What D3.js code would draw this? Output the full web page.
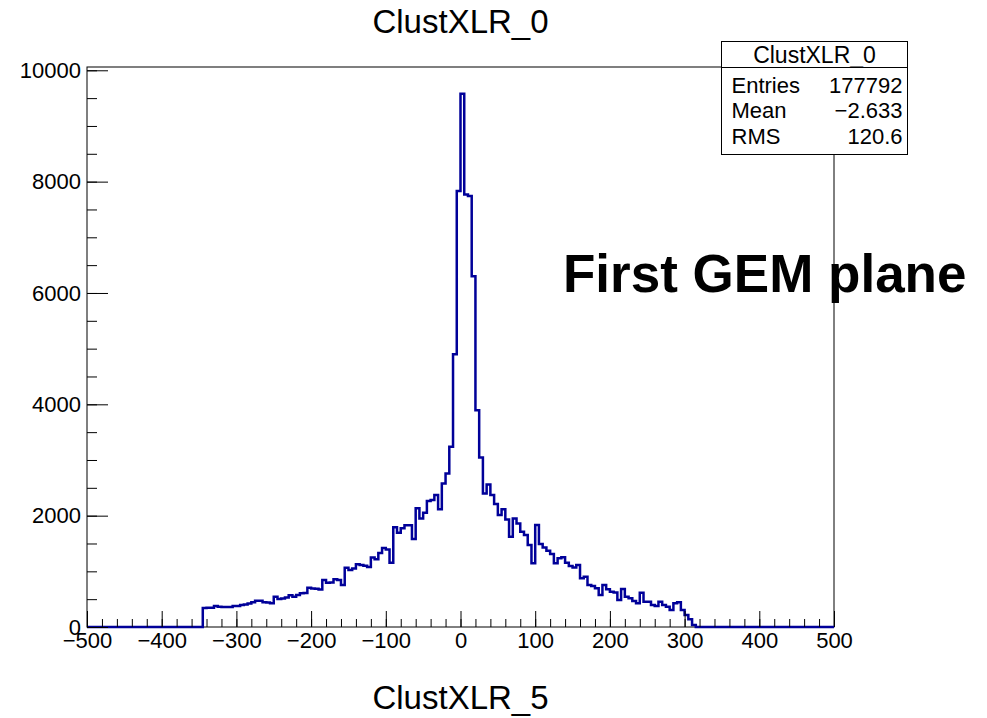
<!DOCTYPE html>
<html>
<head>
<meta charset="utf-8">
<script src="https://cdn.jsdelivr.net/npm/d3@7"></script>
<style>
  body { margin: 0; background: #fff; }
  svg text { font-family: "Liberation Sans", Arial, sans-serif; }
</style>
</head>
<body>
<svg id="chart" width="987" height="718"></svg>
<script>
// histogram settings (200 bins of width 5 from -500 to 500)
const histLow = -500, histHigh = 500, binWidth = 5;
// first non-empty bin starts at -345, counts
const firstEdge = -345;
const counts = [
  340, 345, 345, 375, 365, 360, 360, 360, 375, 378,
  395, 405, 420, 443, 470, 472, 443, 440, 425, 545,
  505, 510, 530, 570, 545, 575, 605, 610, 705, 690,
  685, 675, 844, 795, 800, 856, 844, 754, 1064, 1023,
  1053, 1125, 1113, 1100, 1078, 1250, 1215, 1330, 1420, 1390,
  1155, 1790, 1693, 1772, 1826, 1826, 1580, 2131, 1951, 2052,
  2262, 2280, 2369, 2113, 2579, 2759, 3236, 4900, 7830, 9580,
  7770, 7740, 6300, 3895, 3046, 2400, 2561, 2369, 2208, 2010,
  2113, 1933, 1621, 1951, 1861, 1711, 1651, 1472, 1143, 1831,
  1490, 1430, 1370, 1310, 1143, 1233, 1251, 1154, 1095, 1071,
  1113, 874, 903, 754, 736, 695, 574, 754, 680, 634,
  620, 485, 682, 544, 515, 467, 425, 616, 454, 454,
  395, 377, 454, 395, 365, 305, 425, 443, 305, 215,
  138, 36
];

const xMajor = [-500, -400, -300, -200, -100, 0, 100, 200, 300, 400, 500];
const yMajor = [0, 2000, 4000, 6000, 8000, 10000];

const histName = "ClustXLR_0";
const xTitle = "ClustXLR_5";
const statLabels = ["Entries", "Mean", "RMS"];
const statValues = ["177792", "\u22122.633", "120.6"];
const note = "First GEM plane";

// build full bin list including empty bins
const nBins = (histHigh - histLow) / binWidth;
const bins = d3.range(nBins).map(i => {
  const x0 = histLow + i * binWidth;
  const k = Math.round((x0 - firstEdge) / binWidth);
  return { x0, count: (k >= 0 && k < counts.length) ? counts[k] : 0 };
});

const svg = d3.select("#chart");
const frame = { left: 87, right: 834, top: 67, bottom: 627 };

const x = d3.scaleLinear().domain([histLow, histHigh]).range([frame.left, frame.right]);
// ROOT puts the maximum at 1.05 x the highest bin
const y = d3.scaleLinear().domain([0, d3.max(counts) * 1.05]).range([frame.bottom, frame.top]);

// frame
svg.append("rect")
  .attr("x", frame.left).attr("y", frame.top)
  .attr("width", frame.right - frame.left).attr("height", frame.bottom - frame.top)
  .attr("fill", "none").attr("stroke", "#000").attr("stroke-width", 1);

// histogram outline
const pts = bins.map(b => [b.x0, b.count]);
pts.push([histHigh, 0]);
const line = d3.line()
  .x(d => x(d[0]))
  .y(d => y(d[1]))
  .curve(d3.curveStepAfter);

svg.append("path")
  .datum(pts)
  .attr("fill", "none")
  .attr("stroke", "#000099")
  .attr("stroke-width", 2.5)
  .attr("d", line);

// x axis (ticks inside)
const xMinor = d3.range(histLow, histHigh + 1, 20);
svg.append("g")
  .attr("transform", `translate(0,${frame.bottom})`)
  .call(d3.axisBottom(x).tickValues(xMinor).tickSize(-8).tickFormat("").tickSizeOuter(0))
  .call(g => g.select(".domain").remove());
svg.append("g")
  .attr("transform", `translate(0,${frame.bottom})`)
  .call(d3.axisBottom(x).tickValues(xMajor).tickSize(-16).tickPadding(5)
    .tickFormat(d3.format("d")).tickSizeOuter(0))
  .call(g => g.select(".domain").remove())
  .selectAll("text").style("font-size", "22px").attr("fill", "#000");

// y axis (ticks inside)
const yMinor = d3.range(0, 10001, 500);
svg.append("g")
  .attr("transform", `translate(${frame.left},0)`)
  .call(d3.axisLeft(y).tickValues(yMinor).tickSize(-10).tickFormat("").tickSizeOuter(0))
  .call(g => g.select(".domain").remove());
svg.append("g")
  .attr("transform", `translate(${frame.left},0)`)
  .call(d3.axisLeft(y).tickValues(yMajor).tickSize(-21).tickPadding(6)
    .tickFormat(d3.format("d")).tickSizeOuter(0))
  .call(g => g.select(".domain").remove())
  .selectAll("text").style("font-size", "22px").attr("fill", "#000");

svg.selectAll(".tick line").attr("stroke", "#000");

// titles
svg.append("text")
  .attr("x", (frame.left + frame.right) / 2).attr("y", 33)
  .attr("text-anchor", "middle")
  .style("font-size", "33px")
  .text(histName);

svg.append("text")
  .attr("x", (frame.left + frame.right) / 2).attr("y", 709)
  .attr("text-anchor", "middle")
  .style("font-size", "33px")
  .text(xTitle);

// annotation
svg.append("text")
  .attr("x", 563).attr("y", 292)
  .style("font-size", "53px")
  .style("font-weight", "bold")
  .text(note);

// stats box
const box = svg.append("g");
const bx0 = 721.5, bx1 = 907.5, by0 = 41.5, by1 = 154.5, bdiv = 67.5;
box.append("rect")
  .attr("x", bx0).attr("y", by0)
  .attr("width", bx1 - bx0).attr("height", by1 - by0)
  .attr("fill", "#fff").attr("stroke", "#000").attr("stroke-width", 1);
box.append("line")
  .attr("x1", bx0).attr("x2", bx1).attr("y1", bdiv).attr("y2", bdiv)
  .attr("stroke", "#000");
box.append("text")
  .attr("x", (bx0 + bx1) / 2).attr("y", 63)
  .attr("text-anchor", "middle")
  .style("font-size", "23px")
  .text(histName);

const rowY = d3.scalePoint().domain(statLabels).range([92.5, 144]);
box.selectAll("text.lab")
  .data(statLabels)
  .join("text")
    .attr("class", "lab")
    .attr("x", bx0 + 10)
    .attr("y", d => rowY(d))
    .style("font-size", "22px")
    .text(d => d);
box.selectAll("text.val")
  .data(statValues)
  .join("text")
    .attr("class", "val")
    .attr("x", bx1 - 5)
    .attr("y", (d, i) => rowY(statLabels[i]))
    .attr("text-anchor", "end")
    .style("font-size", "22px")
    .text(d => d);
</script>
</body>
</html>
